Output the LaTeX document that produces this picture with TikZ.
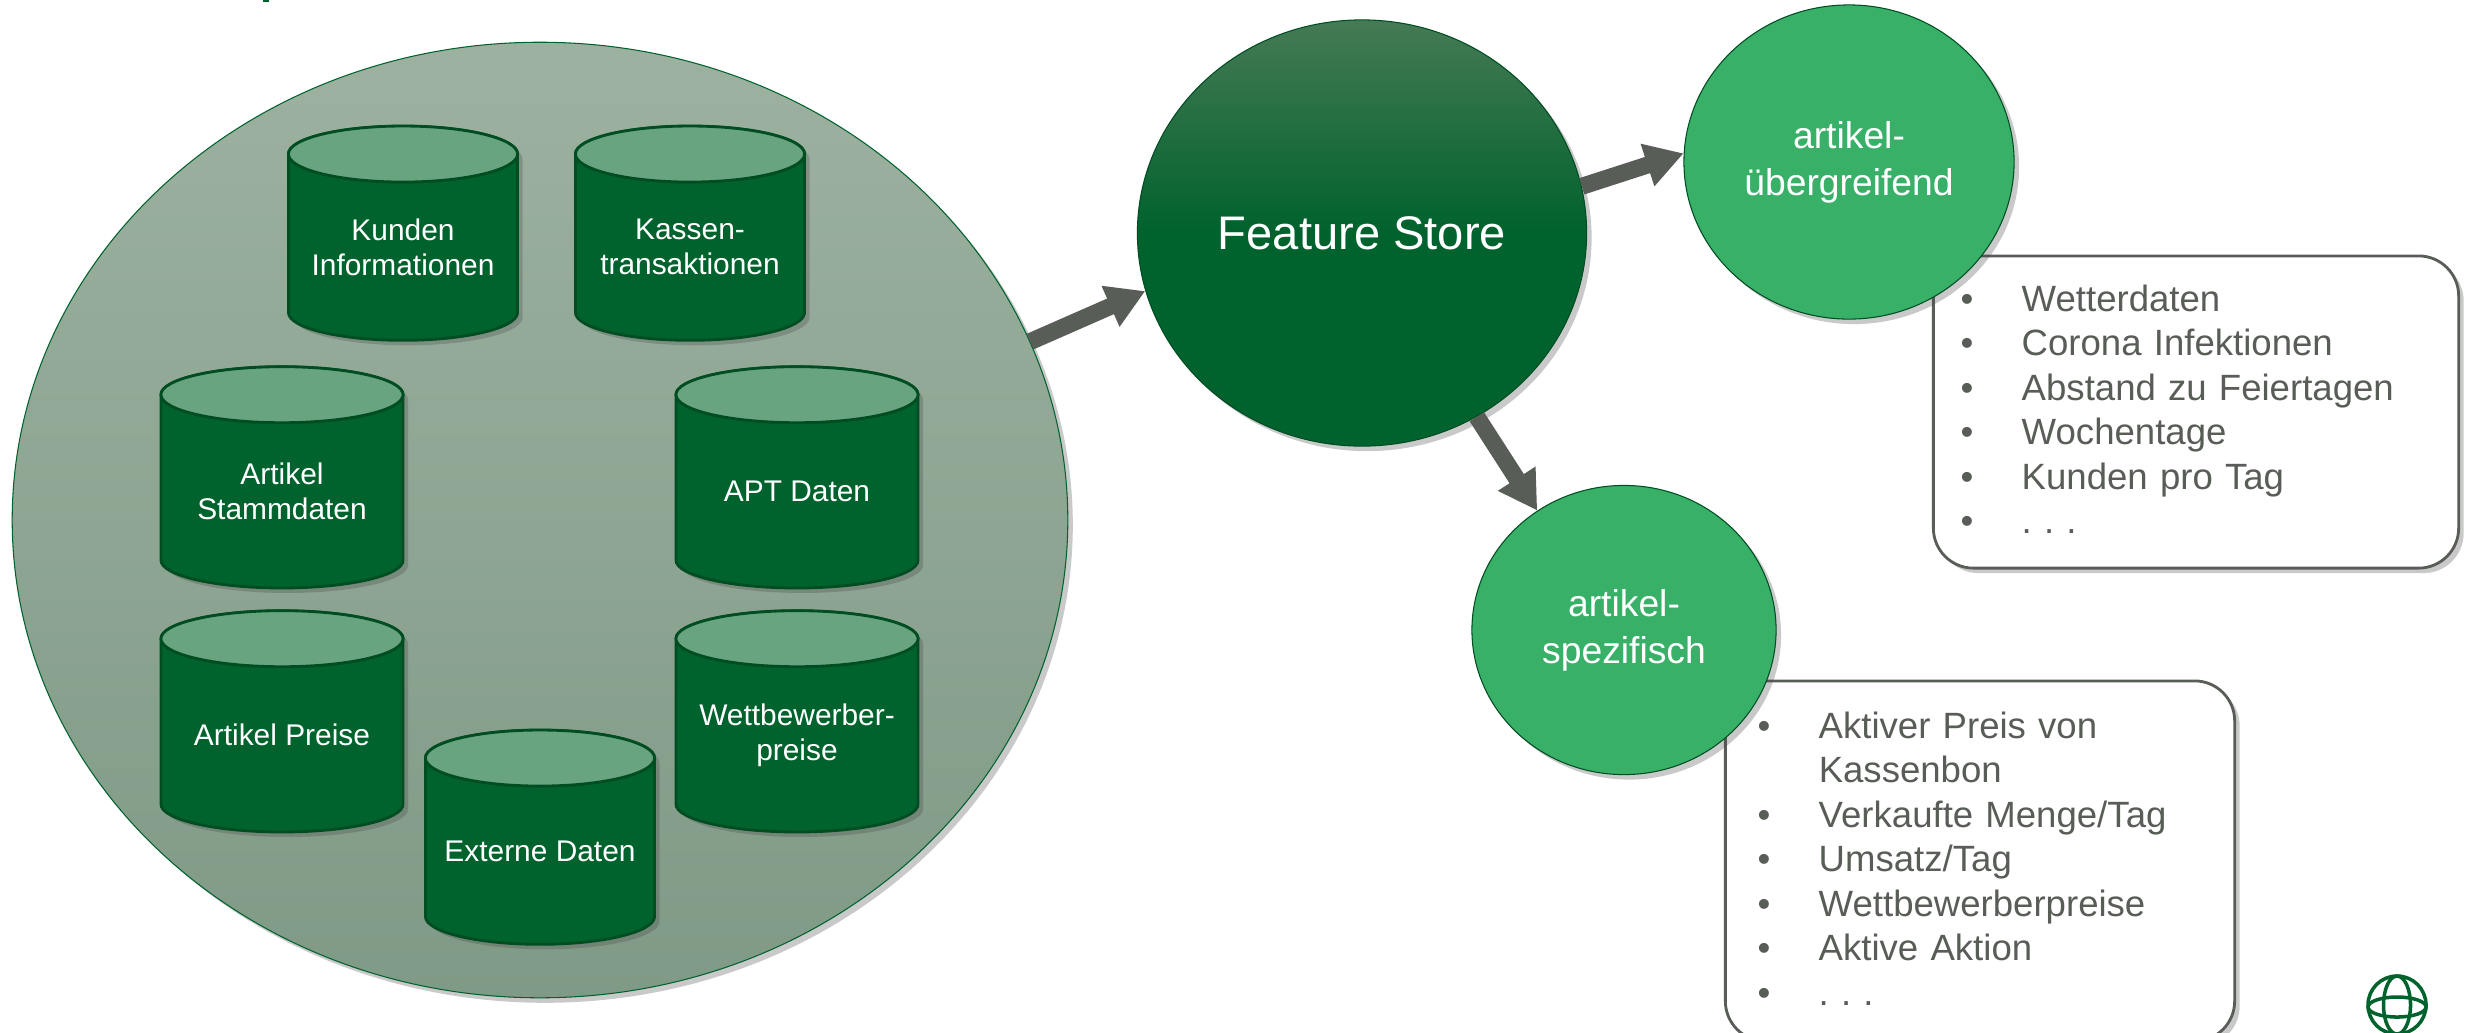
\documentclass[tikz,border=0pt]{standalone}
\usepackage{fontspec}
\setmainfont{Liberation Sans}
\usepackage{tikz}
\usetikzlibrary{shapes.geometric,shadows,arrows.meta}
\definecolor{DarkGreen}{HTML}{00622D}
\definecolor{EdgeGreen}{HTML}{004D22}
\definecolor{LidGreen}{HTML}{67A47F}
\definecolor{MidGreen}{HTML}{38B068}
\definecolor{ArrowGray}{HTML}{595D58}
\definecolor{PoolTop}{HTML}{9DB1A0}
\definecolor{PoolBottom}{HTML}{7F9A86}
\definecolor{HubTop}{HTML}{457A55}
\newcommand{\listline}[1]{\makebox[0.61cm][l]{\textbullet}#1\par}

\begin{document}
\begin{tikzpicture}[x=0.01cm, y=-0.01cm,
		softshadow/.style={drop shadow={shadow xshift=0.05cm, shadow yshift=-0.05cm, opacity=0.3, fill=black!70}},
		datapool/.style={ellipse, draw=DarkGreen, line width=0.3pt, inner sep=0pt, minimum width=10.55cm, minimum height=9.55cm, top color=PoolTop, bottom color=PoolBottom, softshadow},
		store/.style={cylinder, shape border rotate=90, draw=EdgeGreen, line width=0.8pt, aspect=0.27, minimum width=#1, fill=DarkGreen, font=\fontsize{8.5pt}{9.9pt}\selectfont, softshadow},
		lid/.style={ellipse, draw=EdgeGreen, line width=0.8pt, fill=LidGreen, inner sep=0pt, minimum height=0.56cm},
		storetext/.style={inner sep=0pt, text=white, align=center, font=\fontsize{8.5pt}{9.9pt}\selectfont},
		hub/.style={ellipse, draw=EdgeGreen, line width=0.3pt, inner sep=0pt, text=white, align=center, softshadow},
		topic/.style={hub, fill=MidGreen, font=\fontsize{10.6pt}{13.3pt}\selectfont},
		listbox/.style={draw=ArrowGray, line width=0.8pt, fill=white, rounded corners=0.4cm, inner sep=0pt, softshadow},
		listtext/.style={anchor=north west, inner sep=0pt, text=ArrowGray, font=\fontsize{10.4pt}{12.65pt}\selectfont, text width=#1},
		flow/.style={-{Triangle[length=0.38cm, width=0.42cm]}, draw=ArrowGray, line width=0.17cm, softshadow}]

	\useasboundingbox (0,0) rectangle (2473,1032);
	\fill[DarkGreen] (263,0) rectangle (269,2);

	\node [datapool] (pool) at (540,520) {};

	% sources
	\node [store=2.29cm, minimum height=2.14cm] (kunden) at (403,254) {\phantom{Informationen}};
	\node [store=2.29cm, minimum height=2.14cm] (kasse) at (690,254) {\phantom{Informationen}};
	\node [store=2.42cm, minimum height=2.21cm] (stamm) at (282,498) {\phantom{Informationen}};
	\node [store=2.42cm, minimum height=2.21cm] (apt) at (797,498) {\phantom{Informationen}};
	\node [store=2.42cm, minimum height=2.21cm] (preise) at (282,742) {\phantom{Informationen}};
	\node [store=2.42cm, minimum height=2.21cm] (wett) at (797,742) {\phantom{Informationen}};
	\node [store=2.29cm, minimum height=2.14cm] (extern) at (540,858) {\phantom{Informationen}};
	\foreach \s/\w/\t in {kunden/2.29cm/{Kunden\\Informationen}, kasse/2.29cm/{Kassen-\\transaktionen}, stamm/2.42cm/{Artikel\\Stammdaten}, apt/2.42cm/{APT Daten}, preise/2.42cm/{Artikel Preise}, wett/2.42cm/{Wettbewerber-\\preise}, extern/2.29cm/{Externe Daten}} {
		\node [lid, minimum width=\w] (\s lid) at (\s.top |- \s.before top) {};
		\node [storetext] (\s text) at ([yshift=0.07cm]\s.center) {\t};
	}

	% right part
	\node [listbox, minimum width=5.25cm, minimum height=3.12cm] (boxallg) at (2196,412) {};
	\node [listbox, minimum width=5.09cm, minimum height=3.6cm] (boxspez) at (1980,861) {};
	\node [hub, minimum width=4.49cm, minimum height=4.26cm, top color=HubTop, bottom color=DarkGreen, middle color=DarkGreen, font=\fontsize{13.4pt}{16pt}\selectfont] (fstore) at (1362,233) {Feature Store};
	\node [topic, minimum width=3.3cm, minimum height=3.14cm] (allg) at (1849,162) {artikel-\\übergreifend};
	\node [topic, minimum width=3.04cm, minimum height=2.89cm] (spez) at (1624,630) {artikel-\\spezifisch};

	\node [listtext=4.8cm] (listallg) at (1960,284) {\listline{Wetterdaten}\listline{Corona Infektionen}\listline{Abstand zu Feiertagen}\listline{Wochentage}\listline{Kunden pro Tag}\listline{.\,\,.\,\,.}};
	\node [listtext=4.3cm] (listspez) at (1757,711) {\listline{Aktiver Preis von}\hspace{0.61cm}Kassenbon\par\listline{Verkaufte Menge/Tag}\listline{Umsatz/Tag}\listline{Wettbewerberpreise}\listline{Aktive Aktion}\listline{.\,\,.\,\,.}};

	\draw [flow] (pool.20) -- (fstore.195);
	\draw [flow] (fstore.12) -- (allg.177);
	\draw [flow] (fstore.-58) -- (spez.126);

	% logo
	\node [ellipse, draw=DarkGreen, line width=1pt, inner sep=0pt, minimum width=0.58cm, minimum height=0.58cm] (logo) at (2397,1005) {};
	\node [ellipse, draw=DarkGreen, line width=1pt, inner sep=0pt, minimum width=0.27cm, minimum height=0.58cm] (logov) at (2397,1005) {};
	\node [ellipse, draw=DarkGreen, line width=1pt, inner sep=0pt, minimum width=0.58cm, minimum height=0.2cm] (logoh) at (2397,1007) {};
\end{tikzpicture}
\end{document}
